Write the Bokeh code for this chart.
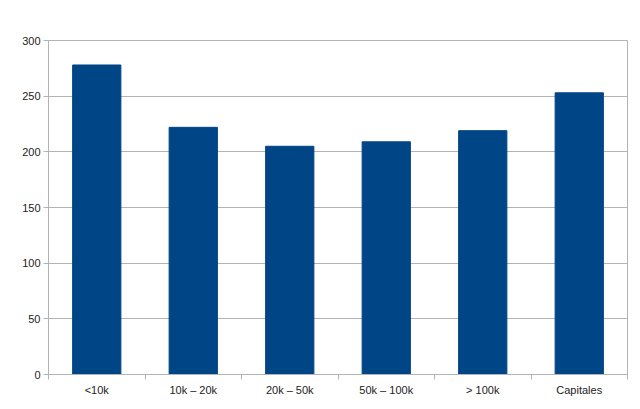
from bokeh.plotting import figure
from bokeh.models import Range1d, FixedTicker, ColumnDataSource
from bokeh.embed import file_html
from bokeh.resources import INLINE

categories = ["<10k", "10k \u2013 20k", "20k \u2013 50k", "50k \u2013 100k", "> 100k", "Capitales"]
values = [278, 222, 205, 209, 219, 253]
y_ticks = [0, 50, 100, 150, 200, 250, 300]

x_pos = [i + 0.5 for i in range(len(categories))]
src = ColumnDataSource(dict(x=x_pos, top=values, cat=categories))

p = figure(frame_width=579, frame_height=334, output_backend="svg", toolbar_location=None,
           x_range=Range1d(0, len(categories)), y_range=Range1d(0, 300),
           min_border_left=48, min_border_top=40, min_border_right=5, min_border_bottom=27)

p.vbar(x="x", top="top", width=0.5, bottom=0, source=src,
       fill_color="#004586", line_color="#004586")

grey = "#b3b3b3"
font = "Liberation Sans"

p.xgrid.grid_line_color = None
p.ygrid.grid_line_color = grey
p.ygrid.ticker = FixedTicker(ticks=y_ticks)
p.outline_line_color = grey

xa = p.xaxis[0]
xa.ticker = FixedTicker(ticks=x_pos, minor_ticks=list(range(len(categories) + 1)))
xa.major_label_overrides = {x: c for x, c in zip(x_pos, categories)}
xa.major_tick_out = 0
xa.major_tick_in = 0
xa.minor_tick_out = 5
xa.minor_tick_in = 0
xa.minor_tick_line_color = grey
xa.axis_line_color = grey
xa.major_label_standoff = 4
xa.major_label_text_font = font
xa.major_label_text_font_size = "11px"
xa.major_label_text_color = "#222222"

ya = p.yaxis[0]
ya.ticker = FixedTicker(ticks=y_ticks)
ya.major_tick_out = 5
ya.major_tick_in = 0
ya.minor_tick_line_color = None
ya.major_tick_line_color = grey
ya.axis_line_color = grey
ya.major_label_standoff = 3
ya.major_label_text_font = font
ya.major_label_text_font_size = "11px"
ya.major_label_text_color = "#222222"

open("out.html", "w").write(file_html(p, INLINE))
